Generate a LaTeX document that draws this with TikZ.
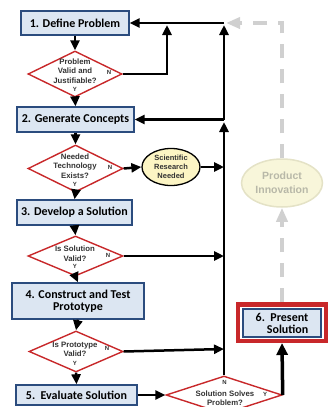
\documentclass[tikz,border=0pt]{standalone}
\usepackage{fontspec}
\setmainfont{Carlito}
\newfontfamily\arf{Liberation Sans}
\usetikzlibrary{shapes.geometric,arrows.meta}
\definecolor{boxfill}{HTML}{DCE6F2}
\definecolor{boxline}{HTML}{2B4C7E}
\definecolor{dred}{HTML}{C8282A}
\definecolor{sciyel}{HTML}{FCF5C4}
\definecolor{pgray}{HTML}{D0D0D0}
\definecolor{pfill}{HTML}{F8F6DA}
\definecolor{ptext}{HTML}{B8B8A8}
\definecolor{pline}{HTML}{E4E2C6}
\definecolor{dtxt}{HTML}{333333}
\begin{document}
\begin{tikzpicture}[x=1pt,y=-1pt,
  stepbox/.style={draw=boxline, line width=1.4pt, fill=boxfill, inner sep=0pt,
    font=\bfseries\fontsize{12}{12}\selectfont, align=center},
  dia/.style={diamond, draw=dred, line width=1.4pt, fill=white, inner sep=0pt},
  dtext/.style={font=\arf\bfseries\fontsize{7.8}{9.5}\selectfont, text=dtxt, align=center, inner sep=0pt},
  yn/.style={font=\arf\bfseries\fontsize{6}{6}\selectfont, text=dtxt, inner sep=0pt},
  flow/.style={line width=2.5pt, -{Triangle[length=10pt,width=9pt]}},
  bigflow/.style={line width=3.5pt, -{Triangle[length=12pt,width=11pt]}},
  gflow/.style={pgray, line width=4pt, dash pattern=on 14pt off 11pt, -{Triangle[length=14pt,width=11pt]}},
  line/.style={line width=2.5pt}
]
\useasboundingbox (0,0) rectangle (334,407);
\clip (0,0) rectangle (334,407);

% boxes
\node[stepbox, minimum width=108pt, minimum height=24pt] (b1) at (75,23) {1. Define Problem};
\node[stepbox, minimum width=117pt, minimum height=25pt] (b2) at (75.5,119.5) {2. Generate Concepts};
\node[stepbox, minimum width=115pt, minimum height=25pt] (b3) at (74.5,212.5) {3. Develop a Solution};
\node[stepbox, minimum width=132pt, minimum height=36pt, font=\bfseries\fontsize{12}{11.5}\selectfont] (b4) at (78,301) {4. Construct and Test\\ Prototype};
\node[stepbox, minimum width=121pt, minimum height=20pt] (b5) at (76.5,395) {5.\ \ Evaluate Solution};

% diamonds
\node[dia, minimum width=94pt, minimum height=46pt] (d1) at (75,74) {};
\node[dia, minimum width=95pt, minimum height=47pt] (d2) at (75.5,168.5) {};
\node[dia, minimum width=95pt, minimum height=40pt] (d3) at (75.5,256) {};
\node[dia, minimum width=94pt, minimum height=41pt] (d4) at (76,351.5) {};
\node[dia, minimum width=116pt, minimum height=38pt] (d5) at (224,395) {};

\node[dtext] (t1) at (75,71) {Problem\\Valid and\\Justifiable?};
\node[yn] (y1) at (75,89) {Y};
\node[yn] (n1) at (109,72) {N};
\node[dtext] (t2) at (75,166) {Needed\\Technology\\Exists?};
\node[yn] (y2) at (75,184) {Y};
\node[yn] (n2) at (110,167) {N};
\node[dtext] (t3) at (75,253.5) {Is Solution\\Valid?};
\node[yn] (y3) at (75,266) {Y};
\node[yn] (n3) at (108,255) {N};
\node[dtext] (t4) at (75,349.5) {Is Prototype\\Valid?};
\node[yn] (y4) at (75,363) {Y};
\node[yn] (n4) at (107,348) {N};
\node[dtext] (t5) at (225,398) {Solution Solves\\Problem?};
\node[yn] (n5) at (224.5,382) {N};
\node[yn] (y5) at (265,394) {Y};

% ellipses
\node[ellipse, draw=black, line width=1.3pt, fill=sciyel, minimum width=58pt, minimum height=37pt, inner sep=0pt,
  font=\arf\bfseries\fontsize{7.5}{9}\selectfont, align=center, text=dtxt] (sci) at (171,167) {Scientific\\Research\\Needed};
\node[ellipse, draw=pline, line width=1.5pt, fill=pfill, minimum width=81pt, minimum height=48pt, inner sep=0pt,
  font=\arf\bfseries\fontsize{10.5}{14}\selectfont, align=center, text=ptext] (prod) at (282,183) {Product\\Innovation};

% box 6
\node[draw=dred, line width=4.5pt, fill=white, minimum width=88pt, minimum height=36.5pt, inner sep=0pt] (b6f) at (282,322.5) {};
\node[stepbox, minimum width=78pt, minimum height=28pt, align=right] (b6) at (282,323) {6.\ \ Present\\Solution};

% junction coordinates
\coordinate (jtop) at (224,23);
\coordinate (jmid) at (224,119.5);
\coordinate (jmidin) at (224,122);
\coordinate (jsci) at (224,167);
\coordinate (jd3) at (224,256);
\coordinate (jd4) at (224,349);
\coordinate (cd1) at (167,74);
\coordinate (cd1top) at (167,25);
\coordinate (jtopin) at (224,25);
\coordinate (gtip) at (226,23);
\coordinate (gcorner) at (282,23);

% vertical flow
\draw[flow] (b1.south) -- (d1.north);
\draw[flow] (d1.south) -- (b2.north);
\draw[flow] (b2.south) -- (d2.north);
\draw[flow] (d2.south) -- (b3.north);
\draw[flow] (b3.south) -- (d3.north);
\draw[flow] (d3.south) -- (b4.north);
\draw[flow] (b4.south) -- (d4.north);
\draw[flow] (d4.south) -- (b5.north);
\draw[flow] (b5.east) -- (d5.west);

% feedback
\draw[flow] (d1.east) -- (cd1) -- (cd1top);
\draw[flow] (jtop) -- (b1.east);
\draw[flow] (jmid) -- (jtopin);
\draw[flow] (jmid) -- (b2.east);
\draw[flow] (d5.north) -- (jmidin);
\draw[flow] (d2.east) -- (sci.west);
\draw[flow] (sci.east) -- (jsci);
\draw[flow] (d3.east) -- (jd3);
\draw[flow] (d4.east) -- (jd4);

% yes to present
\draw[bigflow] (d5.east) -- (b6f.south);

% product innovation path
\draw[gflow] (b6f.north) -- (prod.south);
\draw[gflow] (prod.north) -- (gcorner) -- (gtip);
\end{tikzpicture}
\end{document}
